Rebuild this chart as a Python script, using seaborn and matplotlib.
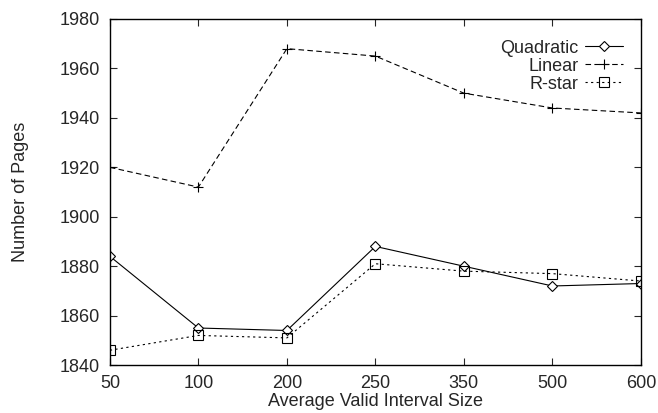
import pandas as pd
import matplotlib
matplotlib.use("Agg")
import matplotlib.pyplot as plt
import seaborn as sns

# data
interval_sizes = ["50", "100", "200", "250", "350", "500", "600"]
quadratic = [1884, 1855, 1854, 1888, 1880, 1872, 1873]
linear = [1920, 1912, 1968, 1965, 1950, 1944, 1942]
rstar = [1846, 1852, 1851, 1881, 1878, 1877, 1874]

sns.set_theme(style="ticks")
plt.rcParams["font.family"] = ["Liberation Sans", "DejaVu Sans"]

df = pd.DataFrame({
    "size": interval_sizes * 3,
    "pages": quadratic + linear + rstar,
    "method": ["Quadratic"] * 7 + ["Linear"] * 7 + ["R-star"] * 7,
})

fig = plt.figure(figsize=(6.58, 4.13), dpi=100)
ax = fig.add_axes([0.167, 0.116, 0.807, 0.838])

styles = {
    "Quadratic": dict(ls="-", marker="D", ms=5.5, mfc="white"),
    "Linear": dict(ls=(0, (5, 3)), marker="+", ms=7, mfc="none"),
    "R-star": dict(ls=(0, (2, 3)), marker="s", ms=6.5, mfc="none"),
}
for name, st in styles.items():
    sub = df[df["method"] == name]
    sns.lineplot(data=sub, x="size", y="pages", ax=ax, color="black",
                 linewidth=0.8, linestyle=st["ls"], marker=st["marker"],
                 markersize=st["ms"], markerfacecolor=st["mfc"],
                 markeredgecolor="black", markeredgewidth=0.8,
                 label=name, sort=False)

fs = 13
ax.set_xlim(0, 6)
ax.set_ylim(1840, 1980)
ax.set_yticks(range(1840, 1981, 20))
ax.set_xlabel("Average Valid Interval Size", fontsize=fs, labelpad=1)
ax.set_ylabel("Number of Pages", fontsize=fs)
ax.yaxis.set_label_coords(-0.152, 0.5)
ax.tick_params(direction="in", top=True, right=True, length=5,
               labelsize=fs, width=0.8, pad=7)
for sp in ax.spines.values():
    sp.set_linewidth(1.0)
    sp.set_color("black")

ax.legend(loc="upper right", frameon=False, markerfirst=False, fontsize=fs,
          handlelength=2.1, handletextpad=0.35, labelspacing=0.05,
          bbox_to_anchor=(0.966, 0.94), borderaxespad=0, borderpad=0)

fig.savefig("out.png", dpi=100)
